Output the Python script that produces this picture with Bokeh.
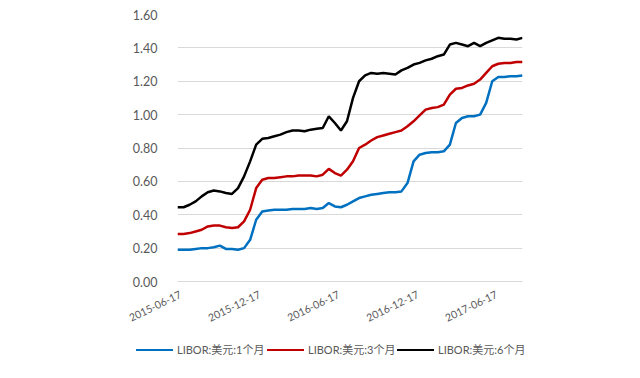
import math
import pandas as pd
from bokeh.plotting import figure
from bokeh.layouts import column
from bokeh.models import (FixedTicker, DatetimeTickFormatter, NumeralTickFormatter,
                          Range1d, Div)
from bokeh.embed import file_html
from bokeh.resources import INLINE

# ---- data ----
dates = pd.date_range("2015-06-10", periods=58, freq="14D")

libor_1m = [0.19, 0.19, 0.19, 0.195, 0.20, 0.20, 0.205, 0.215, 0.195, 0.195,
            0.19, 0.20, 0.25, 0.37, 0.42, 0.425, 0.43, 0.43, 0.43, 0.435,
            0.435, 0.435, 0.44, 0.435, 0.44, 0.47, 0.45, 0.445, 0.46, 0.48,
            0.50, 0.51, 0.52, 0.525, 0.53, 0.535, 0.535, 0.54, 0.59, 0.72,
            0.76, 0.77, 0.775, 0.775, 0.78, 0.82, 0.95, 0.98, 0.99, 0.99,
            1.00, 1.07, 1.20, 1.225, 1.225, 1.23, 1.23, 1.235]

libor_3m = [0.285, 0.285, 0.29, 0.30, 0.31, 0.33, 0.335, 0.335, 0.325, 0.32,
            0.325, 0.36, 0.43, 0.56, 0.61, 0.62, 0.62, 0.625, 0.63, 0.63,
            0.635, 0.635, 0.635, 0.63, 0.64, 0.675, 0.65, 0.635, 0.67, 0.72,
            0.80, 0.82, 0.845, 0.865, 0.875, 0.885, 0.895, 0.905, 0.93, 0.96,
            0.995, 1.03, 1.04, 1.045, 1.06, 1.12, 1.155, 1.16, 1.175, 1.185,
            1.21, 1.25, 1.29, 1.305, 1.31, 1.31, 1.315, 1.315]

libor_6m = [0.445, 0.445, 0.46, 0.48, 0.51, 0.535, 0.545, 0.54, 0.53, 0.525,
            0.56, 0.63, 0.72, 0.82, 0.855, 0.86, 0.87, 0.88, 0.895, 0.905,
            0.905, 0.90, 0.91, 0.915, 0.92, 0.99, 0.95, 0.905, 0.96, 1.10,
            1.20, 1.235, 1.25, 1.245, 1.25, 1.245, 1.24, 1.265, 1.28, 1.30,
            1.31, 1.325, 1.335, 1.35, 1.36, 1.42, 1.43, 1.42, 1.41, 1.43,
            1.41, 1.43, 1.445, 1.46, 1.455, 1.455, 1.45, 1.46]

series_names = ["LIBOR:美元:1个月", "LIBOR:美元:3个月", "LIBOR:美元:6个月"]
series_colors = ["#0070C0", "#C00000", "#000000"]

x_tick_labels = ["2015-06-17", "2015-12-17", "2016-06-17", "2016-12-17", "2017-06-17"]
y_ticks = [0.0, 0.2, 0.4, 0.6, 0.8, 1.0, 1.2, 1.4, 1.6]

FONT = "Lato, 'Noto Sans CJK SC', sans-serif"
LABEL_COLOR = "#595959"
GRID_COLOR = "#D9D9D9"

p = figure(width=640, height=335, x_axis_type="datetime",
           output_backend="svg", toolbar_location=None,
           min_border_left=177, min_border_right=118,
           min_border_top=14, min_border_bottom=54)

p.x_range = Range1d(dates[0], dates[-1])
p.y_range = Range1d(0, 1.6)

for vals, color in zip([libor_1m, libor_3m, libor_6m], series_colors):
    p.line(dates, vals, line_color=color, line_width=2.5)

# axes
tick_ms = [pd.Timestamp(t).value / 1e6 for t in x_tick_labels]
p.xaxis.ticker = FixedTicker(ticks=tick_ms)
fmt = "%Y-%m-%d"
p.xaxis.formatter = DatetimeTickFormatter(days=fmt, months=fmt, years=fmt,
                                          hours=fmt, minutes=fmt)
p.xaxis.major_label_orientation = math.radians(26)
p.xaxis.axis_line_color = GRID_COLOR
p.xaxis.axis_line_width = 1
p.xaxis.major_tick_line_color = None
p.xaxis.minor_tick_line_color = None
p.xaxis.major_label_standoff = 6
p.xaxis.major_label_text_font = FONT
p.xaxis.major_label_text_font_size = "10.5px"
p.xaxis.major_label_text_color = LABEL_COLOR

p.yaxis.ticker = FixedTicker(ticks=y_ticks)
p.yaxis.formatter = NumeralTickFormatter(format="0.00")
p.yaxis.axis_line_color = None
p.yaxis.major_tick_line_color = None
p.yaxis.minor_tick_line_color = None
p.yaxis.major_label_standoff = 14
p.yaxis.major_label_text_font = FONT
p.yaxis.major_label_text_font_size = "12.5px"
p.yaxis.major_label_text_color = LABEL_COLOR

p.xgrid.grid_line_color = None
p.ygrid.grid_line_color = GRID_COLOR
p.ygrid.grid_line_width = 1
p.outline_line_color = None

# ---- legend strip below the chart (HTML, real text) ----
legend_left = [136, 267, 397]
parts = []
for name, color, left in zip(series_names, series_colors, legend_left):
    parts.append(
        f'<div style="position:absolute;left:{left}px;top:7px;height:16px;'
        f'display:flex;align-items:center;white-space:nowrap;">'
        f'<span style="display:inline-block;width:37px;height:0;'
        f'border-top:2.5px solid {color};"></span>'
        f'<span style="margin-left:4px;font-family:{FONT};font-size:11px;'
        f'color:{LABEL_COLOR};line-height:16px;">{name}</span></div>')
legend_html = ('<div style="position:relative;width:640px;height:43px;margin:0;padding:0;">'
               + "".join(parts) + "</div>")
lg = Div(text=legend_html, width=640, height=43, margin=0)

layout = column(p, lg, spacing=0)
open("out.html", "w").write(file_html(layout, INLINE))
